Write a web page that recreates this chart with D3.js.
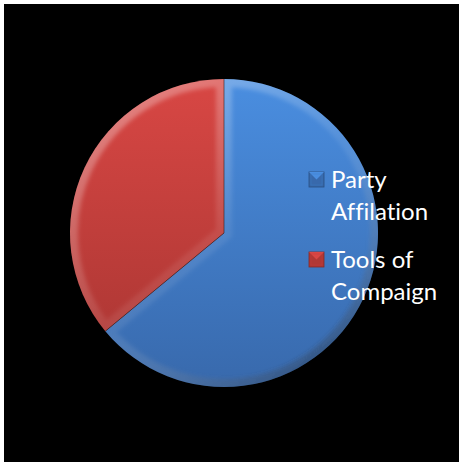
<!DOCTYPE html>
<html>
<head>
<meta charset="utf-8">
<script src="https://cdn.jsdelivr.net/npm/d3@7"></script>
<style>
  html, body { margin: 0; padding: 0; background: #ffffff; }
  svg { display: block; }
  .legend-text { font-variant-ligatures: none; font-feature-settings: "liga" 0; }
</style>
</head>
<body>
<svg id="chart" width="460" height="463"></svg>
<script>
// Chart data
const categories = ["Party Affilation", "Tools of Compaign"];
const legendLines = [["Party", "Affilation"], ["Tools of", "Compaign"]];
const values = [64, 36];
const baseColors = ["#3f7ccb", "#c83f3c"];
const lightColors = ["#4a8ee0", "#d84744"];
const darkColors = ["#3869ac", "#b03835"];

const svg = d3.select("#chart");
const W = 460, H = 463;

// black plot area inside a thin white frame
svg.append("rect").attr("x", 4).attr("y", 4).attr("width", W - 5).attr("height", H - 5).attr("fill", "#000");

const defs = svg.append("defs");

// vertical shading for each slice
categories.forEach((c, i) => {
  const g = defs.append("linearGradient").attr("id", "fill" + i)
    .attr("x1", 0).attr("y1", 0).attr("x2", 0).attr("y2", 1);
  g.append("stop").attr("offset", "0%").attr("stop-color", lightColors[i]);
  g.append("stop").attr("offset", "100%").attr("stop-color", darkColors[i]);
});

const cx = 224, cy = 233, R = 154;

// bevel rim: highlight toward the top-left, shadow toward the bottom-right (pie-local coords)
const bev = defs.append("linearGradient").attr("id", "bevel")
  .attr("gradientUnits", "userSpaceOnUse")
  .attr("x1", 100 - cx).attr("y1", 90 - cy).attr("x2", 330 - cx).attr("y2", 390 - cy);
bev.append("stop").attr("offset", "0%").attr("stop-color", "#ffffff").attr("stop-opacity", 0.35);
bev.append("stop").attr("offset", "50%").attr("stop-color", "#ffffff").attr("stop-opacity", 0.08);
bev.append("stop").attr("offset", "100%").attr("stop-color", "#000000").attr("stop-opacity", 0.35);

defs.append("filter").attr("id", "soft").attr("x", "-10%").attr("y", "-10%").attr("width", "120%").attr("height", "120%")
  .append("feGaussianBlur").attr("stdDeviation", 2);

const pie = d3.pie().sort(null).value(d => d)(values);
const arc = d3.arc().innerRadius(0).outerRadius(R);

const pg = svg.append("g").attr("transform", `translate(${cx},${cy})`);

pie.forEach((p, i) => {
  const d = arc(p);
  defs.append("clipPath").attr("id", "clip" + i).append("path").attr("d", d);
  pg.append("path").attr("d", d).attr("fill", `url(#fill${i})`);
  pg.append("g").attr("clip-path", `url(#clip${i})`)
    .append("path").attr("d", d)
    .attr("fill", "none")
    .attr("stroke", "url(#bevel)")
    .attr("stroke-width", 16)
    .attr("stroke-linejoin", "miter")
    .attr("filter", "url(#soft)");
});

// thin dark seam between slices
pie.forEach(p => {
  const a = p.startAngle;
  pg.append("line")
    .attr("x1", 0).attr("y1", 0)
    .attr("x2", R * Math.sin(a)).attr("y2", -R * Math.cos(a))
    .attr("stroke", "#3a1f1f").attr("stroke-opacity", 0.6).attr("stroke-width", 1);
});

// legend
const lx = 309, ly = 172, lineH = 32, groupGap = 80;
const lg = svg.append("g");
categories.forEach((c, i) => {
  const y = ly + i * groupGap;
  const s = 15;
  const m = lg.append("g").attr("transform", `translate(${lx},${y})`);
  m.append("rect").attr("width", s).attr("height", s).attr("fill", darkColors[i])
    .attr("stroke", d3.color(darkColors[i]).darker(0.8)).attr("stroke-width", 0.8);
  m.append("path").attr("d", `M0,0 L${s},0 L${s / 2},${s / 2} Z`).attr("fill", lightColors[i]);
  m.append("path").attr("d", `M2,2 L${s - 2},2 L${s - 2},${s - 2} L2,${s - 2} Z`).attr("fill", "none")
    .attr("stroke", baseColors[i]).attr("stroke-opacity", 0.4);
  const t = lg.append("text")
    .attr("class", "legend-text")
    .attr("x", lx + 22).attr("y", y + 16)
    .attr("fill", "#ffffff")
    .attr("font-family", "Lato, 'Open Sans', sans-serif")
    .attr("font-size", 24);
  legendLines[i].forEach((ln, k) => {
    t.append("tspan").attr("x", lx + 22).attr("dy", k === 0 ? 0 : lineH).text(ln);
  });
});
</script>
</body>
</html>
